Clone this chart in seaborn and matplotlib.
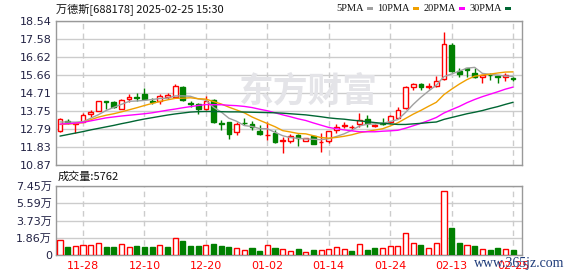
import matplotlib
matplotlib.use("Agg")
import numpy as np
import pandas as pd
import seaborn as sns
import matplotlib.pyplot as plt
from matplotlib.patches import Rectangle

# ---------------- data ----------------
dates = ["11-25", "11-26", "11-27", "11-28", "11-29", "12-02", "12-03", "12-04", "12-05", "12-06",
         "12-09", "12-10", "12-11", "12-12", "12-13", "12-16", "12-17", "12-18", "12-19", "12-20",
         "12-23", "12-24", "12-25", "12-26", "12-27", "12-30", "12-31", "01-02", "01-03", "01-06",
         "01-07", "01-08", "01-09", "01-10", "01-13", "01-14", "01-15", "01-16", "01-17", "01-20",
         "01-21", "01-22", "01-23", "01-24", "01-27", "02-05", "02-06", "02-07", "02-10", "02-11",
         "02-12", "02-13", "02-14", "02-17", "02-18", "02-19", "02-20", "02-21", "02-24", "02-25"]

opens = [12.67, 13.20, 13.08, 13.17, 13.56, 13.76, 14.27, 14.22, 13.86, 14.40,
         14.47, 14.63, 14.26, 14.27, 14.50, 14.50, 15.04, 14.15, 14.11, 13.83,
         14.33, 13.10, 13.15, 12.64, 13.13, 13.08, 12.67, 12.45, 12.58, 12.14,
         12.14, 12.45, 12.17, 12.41, 12.09, 12.14, 12.73, 12.97, 12.89, 13.03,
         13.30, 12.93, 13.10, 13.17, 13.40, 13.88, 15.00, 15.16, 15.01, 15.09,
         15.45, 17.26, 15.89, 16.02, 15.78, 15.54, 15.68, 15.59, 15.57, 15.48]
closes = [13.31, 13.15, 13.10, 13.53, 13.70, 14.29, 14.25, 13.94, 14.31, 14.49,
          14.43, 14.36, 14.22, 14.54, 14.58, 15.07, 14.33, 14.12, 13.85, 14.27,
          13.14, 13.06, 12.50, 13.05, 13.09, 12.90, 12.51, 12.47, 12.10, 12.18,
          12.41, 12.30, 12.31, 11.98, 12.11, 12.67, 12.90, 13.00, 12.91, 13.26,
          13.12, 13.02, 13.07, 13.47, 13.79, 15.00, 15.16, 15.00, 15.08, 15.34,
          17.30, 15.89, 15.72, 15.92, 15.54, 15.66, 15.64, 15.56, 15.66, 15.43]
highs = [13.35, 13.31, 13.12, 13.65, 13.79, 14.30, 14.28, 14.29, 14.38, 14.63,
         14.68, 14.95, 14.46, 14.65, 14.68, 15.18, 15.09, 14.29, 14.15, 14.54,
         14.40, 13.26, 13.18, 13.17, 13.35, 13.22, 12.99, 13.15, 12.73, 12.37,
         12.50, 12.50, 12.33, 12.46, 12.55, 12.69, 13.08, 13.17, 12.99, 13.65,
         13.53, 13.05, 13.35, 13.53, 13.97, 15.09, 15.25, 15.25, 15.22, 15.61,
         17.94, 17.35, 16.02, 16.05, 16.02, 15.68, 15.78, 15.66, 15.75, 15.57]
lows = [12.65, 13.03, 12.58, 13.15, 13.44, 13.75, 13.83, 13.92, 13.84, 14.24,
        14.27, 14.34, 14.10, 14.10, 14.36, 14.48, 14.30, 13.97, 13.60, 13.80,
        13.12, 12.76, 12.28, 12.46, 12.99, 12.76, 12.46, 12.22, 12.02, 11.52,
        12.05, 11.87, 12.15, 11.97, 11.57, 12.05, 12.55, 12.82, 12.76, 12.90,
        12.90, 12.88, 12.99, 13.12, 13.38, 13.85, 14.86, 14.88, 14.90, 15.04,
        15.42, 15.84, 15.57, 15.57, 15.48, 15.22, 15.39, 15.22, 15.34, 15.34]

ma5 = [13.16, 13.16, 13.15, 13.18, 13.36, 13.55, 13.77, 13.94, 14.10, 14.26,
       14.28, 14.31, 14.36, 14.41, 14.43, 14.55, 14.55, 14.53, 14.39, 14.33,
       13.94, 13.69, 13.36, 13.20, 12.97, 12.92, 12.81, 12.80, 12.61, 12.43,
       12.33, 12.29, 12.26, 12.24, 12.22, 12.27, 12.39, 12.53, 12.72, 12.95,
       13.04, 13.06, 13.08, 13.19, 13.29, 13.67, 14.10, 14.48, 14.81, 15.12,
       15.58, 15.72, 15.87, 16.03, 16.07, 15.75, 15.70, 15.66, 15.61, 15.59]
ma10 = [13.03, 13.05, 13.08, 13.13, 13.28, 13.42, 13.52, 13.60, 13.70, 13.81,
        13.92, 14.04, 14.15, 14.25, 14.34, 14.42, 14.43, 14.45, 14.40, 14.38,
        14.25, 14.12, 13.95, 13.80, 13.65, 13.43, 13.25, 13.08, 12.91, 12.70,
        12.63, 12.55, 12.53, 12.43, 12.33, 12.30, 12.34, 12.40, 12.48, 12.59,
        12.66, 12.73, 12.80, 12.95, 13.12, 13.35, 13.58, 13.78, 14.00, 14.21,
        14.62, 14.91, 15.18, 15.42, 15.60, 15.66, 15.71, 15.77, 15.82, 15.83]
ma20 = [13.05, 13.07, 13.10, 13.14, 13.22, 13.30, 13.38, 13.43, 13.48, 13.52,
        13.56, 13.60, 13.65, 13.72, 13.79, 13.85, 13.92, 13.98, 14.04, 14.09,
        14.08, 14.08, 14.05, 14.03, 13.99, 13.93, 13.84, 13.76, 13.65, 13.54,
        13.44, 13.33, 13.24, 13.11, 12.99, 12.87, 12.80, 12.74, 12.69, 12.64,
        12.64, 12.64, 12.67, 12.69, 12.72, 12.83, 12.96, 13.09, 13.24, 13.40,
        13.64, 13.82, 13.99, 14.19, 14.36, 14.51, 14.64, 14.77, 14.91, 15.02]
ma30 = [12.41, 12.49, 12.57, 12.65, 12.74, 12.82, 12.90, 12.98, 13.07, 13.15,
        13.24, 13.32, 13.39, 13.46, 13.53, 13.59, 13.64, 13.69, 13.71, 13.72,
        13.72, 13.71, 13.70, 13.70, 13.69, 13.68, 13.67, 13.66, 13.65, 13.63,
        13.60, 13.57, 13.54, 13.49, 13.44, 13.38, 13.34, 13.31, 13.26, 13.22,
        13.18, 13.13, 13.09, 13.06, 13.03, 13.03, 13.06, 13.09, 13.13, 13.16,
        13.30, 13.40, 13.50, 13.60, 13.68, 13.77, 13.88, 13.98, 14.10, 14.21]

volumes = [16200, 8300, 9400, 10400, 10400, 12600, 8300, 8300, 11500, 8300,
           9700, 8600, 8600, 10400, 8600, 18000, 15100, 9700, 9700, 10400,
           11900, 9700, 8600, 7200, 5400, 7600, 4300, 10400, 7600, 6100,
           4300, 6500, 3200, 5400, 5400, 6500, 8300, 6100, 4300, 11900,
           5400, 7600, 7200, 9400, 9700, 23400, 12600, 10800, 7200, 13000,
           69100, 29200, 13300, 10400, 9700, 6100, 5400, 7600, 6100, 5762]
vol_up = [1, 0, 1, 1, 1, 1, 0, 0, 1, 1, 0, 0, 0, 1, 0, 1, 0, 0, 0, 1,
          0, 0, 0, 1, 1, 0, 0, 1, 0, 1, 1, 0, 1, 0, 1, 1, 1, 1, 0, 1,
          0, 0, 1, 1, 1, 1, 1, 0, 1, 1, 1, 0, 0, 1, 0, 1, 0, 0, 1, 0]

price_ticks = [10.87, 11.83, 12.79, 13.75, 14.71, 15.66, 16.62, 17.58, 18.54]
vol_ticks = [0, 18625, 37250, 55875, 74500]
vol_tick_labels = ["0", "1.86万", "3.73万", "5.59万", "7.45万"]
tick_every = 8
title_text = "万德斯[688178] 2025-02-25 15:30"
vol_title = "成交量:5762"
ma_names = ["5PMA", "10PMA", "20PMA", "30PMA"]

# ---------------- style ----------------
sns.set_style("white")
plt.rcParams["font.family"] = ["DejaVu Sans", "Noto Sans CJK SC"]
CJK = ["Noto Sans CJK SC", "DejaVu Sans"]
RED, GREEN = "#ff0000", "#008000"
MA_COLORS = ["#a0a0a0", "#f0a000", "#ff00ff", "#006633"]
SPINE = "#999999"
GRID = "#cccccc"
LABEL = "#222244"

df = pd.DataFrame({"date": dates, "open": opens, "close": closes, "high": highs, "low": lows,
                   "ma5": ma5, "ma10": ma10, "ma20": ma20, "ma30": ma30,
                   "vol": volumes, "vol_up": vol_up})
df["i"] = np.arange(len(df))
df["up"] = df["close"] >= df["open"]

W, H = 578, 276
fig = plt.figure(figsize=(W / 100, H / 100), dpi=100)
ax = fig.add_axes([56 / W, 1 - 165 / H, 466 / W, 144 / H])
axv = fig.add_axes([56 / W, 1 - 255 / H, 466 / W, 69 / H])

xlim = (-0.52, len(df) - 1 + 1.16)
tick_idx = list(range(3, len(df), tick_every))

for a in (ax, axv):
    a.set_xlim(*xlim)
    for s in a.spines.values():
        s.set_color(SPINE)
        s.set_linewidth(1.0)
    a.tick_params(length=0, labelsize=8, labelcolor=LABEL, pad=3)
    a.set_axisbelow(True)
    a.yaxis.grid(True, color=GRID, lw=1.0, ls="-")
    for t in tick_idx:
        a.axvline(t, color=GRID, lw=1.0, ls=(0, (4, 3)), zorder=0.5)

# ---- price panel ----
ax.set_ylim(price_ticks[0], price_ticks[-1])
ax.set_yticks(price_ticks)
ax.set_yticklabels([f"{v:.2f}" for v in price_ticks])
ax.set_xticks([])

ax.text((308 - 56) / 466, (165 - 91) / 144, "东方财富", transform=ax.transAxes,
        fontsize=25, color="#e4e4e8", fontweight="bold", family=CJK,
        ha="center", va="center", zorder=1)

for up, col in ((True, RED), (False, GREEN)):
    d = df[df["up"] == up]
    ax.vlines(d["i"], d["low"], d["high"], color=col, lw=1.0, zorder=2)
    body_h = np.maximum((d["close"] - d["open"]).abs(), 0.012)
    ax.bar(d["i"], body_h, bottom=np.minimum(d["open"], d["close"]), width=0.62,
           facecolor="white" if up else col, edgecolor=col, lw=1.0, zorder=3)

for name, col in zip(["ma5", "ma10", "ma20", "ma30"], MA_COLORS):
    sns.lineplot(data=df, x="i", y=name, ax=ax, color=col, lw=1.0, zorder=4)
ax.set_xlabel("")
ax.set_ylabel("")
ax.set_xlim(*xlim)

# ---- volume panel ----
axv.set_ylim(0, vol_ticks[-1])
axv.set_yticks(vol_ticks)
axv.set_yticklabels(vol_tick_labels)
for up, col in ((1, RED), (0, GREEN)):
    d = df[df["vol_up"] == up]
    axv.bar(d["i"], d["vol"], width=0.66, facecolor="white" if up else col,
            edgecolor=col, lw=1.0, zorder=3)
axv.set_xticks(tick_idx)
axv.set_xticklabels([dates[t] for t in tick_idx], color=RED, fontsize=8)
axv.tick_params(axis="x", pad=4, labelcolor=RED)

# ---- texts ----
fig.text(56 / W, 1 - 10 / H, title_text, fontsize=8, family=CJK, color="#111111",
         ha="left", va="center")
fig.text(58 / W, 1 - 177 / H, vol_title, fontsize=8, family=CJK, color="#111111",
         ha="left", va="center")

leg_text_right = [364, 410, 456, 502]
for name, col, xr in zip(ma_names, MA_COLORS, leg_text_right):
    fig.text(xr / W, 1 - 8.5 / H, name, fontsize=7.5, family="Liberation Serif",
             color="#111111", ha="right", va="center")
    fig.patches.append(Rectangle(((xr + 3) / W, 1 - 10 / H), 6 / W, 3 / H,
                                 transform=fig.transFigure, facecolor=col,
                                 edgecolor="none", figure=fig))

fig.text(519 / W, 1 - 264 / H, "www.365jz.com", fontsize=10, family="Liberation Serif",
         color="#1f3c7a", ha="center", va="center", zorder=10)

fig.savefig("out.png", dpi=100)
